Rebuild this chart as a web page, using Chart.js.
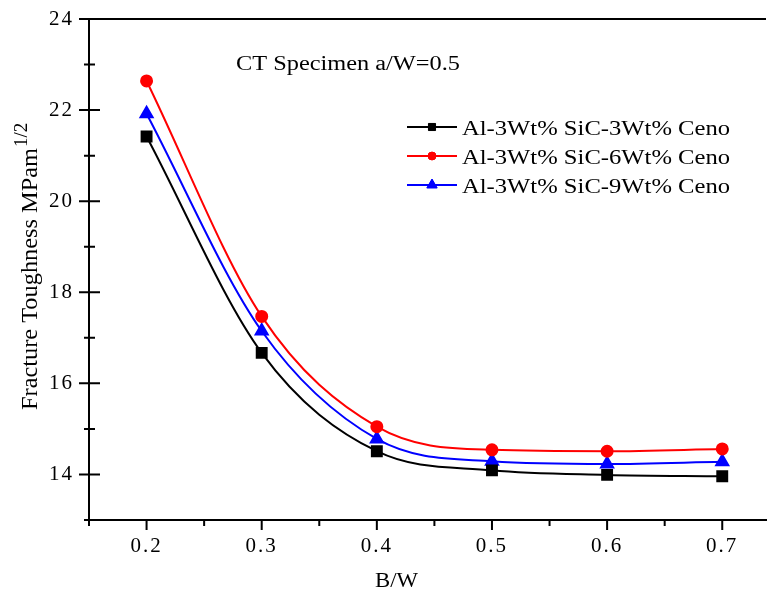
<!DOCTYPE html>
<html>
<head>
<meta charset="utf-8">
<script src="https://cdn.jsdelivr.net/npm/chart.js@4/dist/chart.umd.min.js"></script>
<style>
  html, body { margin: 0; padding: 0; background: #fff; }
  #wrap { width: 775px; height: 592px; position: relative; }
</style>
</head>
<body>
<div id="wrap"><canvas id="c" width="775" height="592"></canvas></div>
<script>
// ---- data ----
const bwValues = [0.2, 0.3, 0.4, 0.5, 0.6, 0.7];
const ceno3 = [21.42, 16.67, 14.51, 14.09, 13.99, 13.96];
const ceno6 = [22.64, 17.47, 15.05, 14.54, 14.51, 14.56];
const ceno9 = [21.92, 17.15, 14.78, 14.29, 14.23, 14.28];
const seriesLabels = ['Al-3Wt% SiC-3Wt% Ceno', 'Al-3Wt% SiC-6Wt% Ceno', 'Al-3Wt% SiC-9Wt% Ceno'];
const xTickValues = [0.2, 0.3, 0.4, 0.5, 0.6, 0.7];
const xMinorValues = [0.15, 0.25, 0.35, 0.45, 0.55, 0.65];
const yTickValues = [14, 16, 18, 20, 22, 24];
const yMinorValues = [13, 15, 17, 19, 21, 23];
const annotationText = 'CT Specimen a/W=0.5';
const xTitle = 'B/W';
const yTitle = 'Fracture Toughness MPam';
const yTitleSup = '1/2';

const FONT = '"Liberation Serif", "Times New Roman", serif';

function pts(vals) { return bwValues.map((x, i) => ({ x: x, y: vals[i] })); }

function fitText(ctx, text, x, y, size, targetW, align) {
  ctx.save();
  ctx.font = size + 'px ' + FONT;
  const w = ctx.measureText(text).width;
  const s = targetW ? targetW / w : 1;
  ctx.translate(x, y);
  ctx.scale(s, 1);
  ctx.textAlign = align || 'left';
  ctx.textBaseline = 'alphabetic';
  ctx.fillStyle = '#000';
  ctx.fillText(text, 0, 0);
  ctx.restore();
}

const decor = {
  id: 'decor',
  beforeDraw(chart) { chart.ctx.letterSpacing = '2px'; },
  beforeDatasetsDraw(chart) {
    const ctx = chart.ctx;
    ctx.letterSpacing = '0px';
    const a = chart.chartArea, xs = chart.scales.x, ys = chart.scales.y;
    ctx.save();
    ctx.strokeStyle = '#000';
    ctx.lineWidth = 2;
    // top border
    ctx.beginPath(); ctx.moveTo(a.left - 1, a.top); ctx.lineTo(a.right, a.top); ctx.stroke();
    // y ticks (crossing)
    ctx.beginPath();
    yTickValues.forEach(v => { const p = ys.getPixelForValue(v); ctx.moveTo(a.left - 10, p); ctx.lineTo(a.left + 11, p); });
    yMinorValues.forEach(v => { const p = ys.getPixelForValue(v); ctx.moveTo(a.left - 5, p); ctx.lineTo(a.left + 6, p); });
    // x ticks (outward)
    xTickValues.forEach(v => { const p = xs.getPixelForValue(v); ctx.moveTo(p, a.bottom); ctx.lineTo(p, a.bottom + 10); });
    xMinorValues.forEach(v => { const p = xs.getPixelForValue(v); ctx.moveTo(p, a.bottom); ctx.lineTo(p, a.bottom + 6); });
    ctx.stroke();
    ctx.restore();
  },
  afterDraw(chart) {
    const ctx = chart.ctx;
    ctx.letterSpacing = '0px';
    // annotation
    fitText(ctx, annotationText, 236, 70, 20, 224);
    // legend
    const rows = [127, 156, 185];
    chart.data.datasets.forEach((ds, i) => {
      const y = rows[i];
      ctx.save();
      ctx.strokeStyle = ds.borderColor; ctx.lineWidth = 2;
      ctx.beginPath(); ctx.moveTo(407, y); ctx.lineTo(457, y); ctx.stroke();
      ctx.fillStyle = ds.pointBackgroundColor; ctx.strokeStyle = ds.borderColor; ctx.lineWidth = 1;
      Chart.helpers.drawPoint(ctx, { pointStyle: ds.pointStyle, radius: ds.legendRadius, rotation: 0, borderWidth: 1 }, 432, y);
      ctx.fill();
      ctx.restore();
      fitText(ctx, ds.label, 462, y + 7.5, 20.5, 268);
    });
    // x title
    fitText(ctx, xTitle, 375, 587, 21, 43);
    // y title, rotated
    ctx.save();
    ctx.translate(37, 410);
    ctx.rotate(-Math.PI / 2);
    ctx.font = '23px ' + FONT;
    const w = ctx.measureText(yTitle).width;
    const s = 262 / w;
    ctx.save();
    ctx.scale(s, 1);
    ctx.fillStyle = '#000'; ctx.textBaseline = 'alphabetic'; ctx.textAlign = 'left';
    ctx.fillText(yTitle, 0, 0);
    ctx.restore();
    ctx.font = '19px ' + FONT;
    ctx.fillStyle = '#000';
    ctx.fillText(yTitleSup, 263, -10);
    ctx.restore();
  }
};

const mk = (label, vals, color, style, r, lr) => ({
  label: label, data: pts(vals), borderColor: color, backgroundColor: color,
  pointBackgroundColor: color, pointBorderColor: color, pointStyle: style,
  pointRadius: r, pointHoverRadius: r, borderWidth: 2, legendRadius: lr,
  cubicInterpolationMode: 'monotone', fill: false
});

new Chart(document.getElementById('c'), {
  type: 'line',
  data: {
    datasets: [
      mk(seriesLabels[0], ceno3, '#000000', 'rect', 7, 5),
      mk(seriesLabels[1], ceno6, '#ff0000', 'circle', 5.5, 4),
      mk(seriesLabels[2], ceno9, '#0000ff', 'triangle', 7, 6)
    ]
  },
  options: {
    responsive: false,
    animation: false,
    events: [],
    layout: { padding: { top: 19, left: 0, right: 0, bottom: 0 } },
    plugins: { legend: { display: false }, tooltip: { enabled: false } },
    scales: {
      x: {
        type: 'linear', min: 0.15, max: 0.738,
        afterFit: s => { s.height = 72; },
        afterBuildTicks: s => { s.ticks = xTickValues.map(v => ({ value: v })); },
        grid: { display: true, drawOnChartArea: false, drawTicks: true, tickLength: 10, tickColor: 'rgba(0,0,0,0)' },
        border: { display: true, color: '#000', width: 2 },
        ticks: { color: '#000', padding: 4, maxRotation: 0, font: { family: FONT, size: 21 },
                 callback: v => v.toFixed(1) }
      },
      y: {
        type: 'linear', min: 13, max: 24,
        afterFit: s => { s.width = 89; },
        afterBuildTicks: s => { s.ticks = yTickValues.map(v => ({ value: v })); },
        grid: { display: true, drawOnChartArea: false, drawTicks: true, tickLength: 10, tickColor: 'rgba(0,0,0,0)' },
        border: { display: true, color: '#000', width: 2 },
        ticks: { color: '#000', padding: 5, font: { family: FONT, size: 21 },
                 callback: v => String(v) }
      }
    }
  },
  plugins: [decor]
});
</script>
</body>
</html>
